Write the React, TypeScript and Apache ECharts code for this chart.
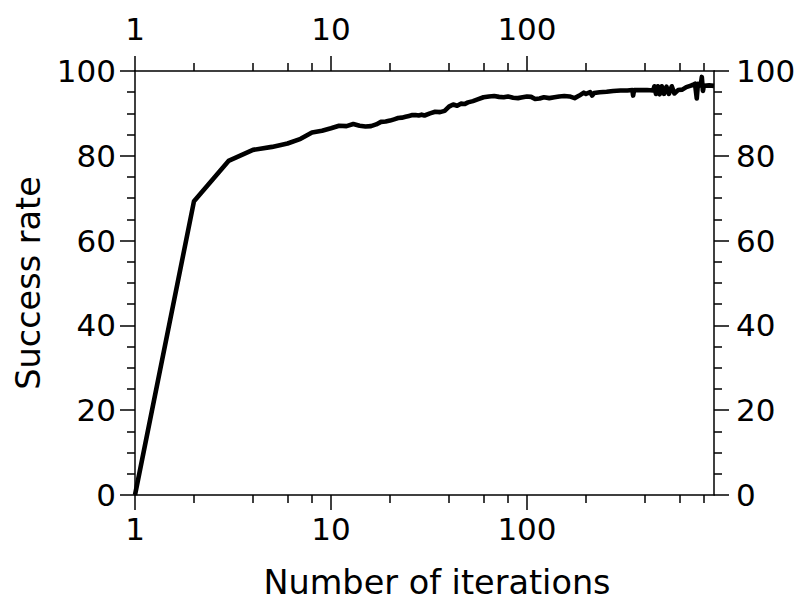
import React, { useEffect, useRef } from "react";
import * as echarts from "echarts";

const iterations = [
  1, 2, 3, 4, 5, 6, 7, 8, 9, 10, 11, 12, 13, 14, 15, 16, 17, 18, 19, 20,
  21, 22, 23, 24, 25, 26, 27, 28, 29, 30, 32, 34, 36, 38, 40, 42, 44, 46, 48, 50,
  53, 56, 60, 64, 68, 72, 76, 80, 85, 90, 95, 100, 105, 110, 116, 122, 130, 138, 146, 155,
  165, 175, 185, 195, 200, 210, 215, 220, 235, 255, 275, 300, 325, 345, 348, 352, 380, 410, 440, 447,
  455, 465, 475, 487, 500, 515, 530, 548, 565, 590, 620, 650, 680, 700, 720, 735,
  745, 770, 780, 790, 800, 850, 900,
];
const successRate = [
  0, 69.3, 78.8, 81.4, 82.1, 82.9, 84.0, 85.5, 85.9, 86.5, 87.1, 87.0, 87.5, 87.1, 86.9, 87.0, 87.4, 88.0, 88.1, 88.3,
  88.6, 88.9, 89.0, 89.2, 89.4, 89.6, 89.6, 89.5, 89.7, 89.5, 90.0, 90.4, 90.3, 90.6, 91.6, 92.1, 91.8, 92.3, 92.2, 92.6,
  92.9, 93.3, 93.8, 94.0, 94.1, 93.9, 93.8, 94.0, 93.7, 93.6, 93.8, 94.0, 93.9, 93.4, 93.5, 93.8, 93.6, 93.8, 94.0, 94.1,
  94.0, 93.6, 94.2, 94.9, 94.6, 95.0, 94.2, 94.8, 95.0, 95.1, 95.3, 95.4, 95.4, 95.5, 94.2, 95.5, 95.5, 95.5, 95.4, 96.4,
  94.6, 96.4, 94.5, 96.4, 94.6, 96.3, 94.6, 96.4, 94.7, 95.5, 95.6, 96.2, 96.5, 96.7, 97.0, 93.5,
  97.0, 96.6, 98.6, 95.3, 96.5, 96.6, 96.5,
];

const xMin = 1;
const xMax = 900;
const xMajorTicks = [1, 10, 100];
const xMinorTicks = [2, 4, 6, 8, 20, 40, 60, 80, 200, 400, 600, 800];
const yMin = 0;
const yMax = 100;
const yInterval = 20;

const FONT = "DejaVu Sans";
const BLACK = "#000000";

export default function App() {
  const ref = useRef<HTMLDivElement>(null);

  useEffect(() => {
    if (!ref.current) return;
    const chart = echarts.init(ref.current, undefined, { renderer: "svg" });

    const lineStyle = { color: BLACK, width: 1.5 };
    const majorX = (position: "top" | "bottom", withName: boolean) => ({
      type: "log",
      logBase: 10,
      position,
      min: xMin,
      max: xMax,
      axisLine: { show: true, lineStyle },
      axisTick: { show: true, customValues: xMajorTicks, length: 15, lineStyle },
      axisLabel: {
        show: true,
        customValues: xMajorTicks,
        fontSize: 31,
        fontFamily: FONT,
        color: BLACK,
        margin: position === "bottom" ? 18 : 27,
      },
      splitLine: { show: false },
      minorTick: { show: false },
      ...(withName
        ? {
            name: "Number of iterations",
            nameLocation: "middle",
            nameGap: 70,
            nameTextStyle: {
              fontSize: 33.5,
              fontFamily: FONT,
              color: BLACK,
              padding: [0, 0, 0, 25],
            },
          }
        : {}),
    });
    const minorX = (position: "top" | "bottom") => ({
      type: "log",
      logBase: 10,
      position,
      min: xMin,
      max: xMax,
      axisLine: { show: false },
      axisTick: { show: true, customValues: xMinorTicks, length: 8, lineStyle },
      axisLabel: { show: false },
      splitLine: { show: false },
    });
    const yAx = (position: "left" | "right", withName: boolean) => ({
      type: "value",
      position,
      min: yMin,
      max: yMax,
      interval: yInterval,
      axisLine: { show: true, lineStyle },
      axisTick: { show: true, length: 15, lineStyle },
      minorTick: { show: true, splitNumber: 4, length: 8, lineStyle },
      axisLabel: {
        show: true,
        fontSize: 31,
        fontFamily: FONT,
        color: BLACK,
        margin: position === "left" ? 19 : 22,
      },
      splitLine: { show: false },
      minorSplitLine: { show: false },
      ...(withName
        ? {
            name: "Success rate",
            nameLocation: "middle",
            nameGap: 88,
            nameTextStyle: { fontSize: 33.5, fontFamily: FONT, color: BLACK },
          }
        : {}),
    });

    chart.setOption({
      animation: false,
      backgroundColor: "#ffffff",
      grid: {
        left: 135,
        right: 85,
        top: 71,
        bottom: 106,
        containLabel: false,
        outerBoundsMode: "none",
      },
      xAxis: [majorX("bottom", true), minorX("bottom"), majorX("top", false), minorX("top")],
      yAxis: [yAx("left", true), yAx("right", false)],
      series: [
        {
          type: "line",
          xAxisIndex: 0,
          yAxisIndex: 0,
          data: iterations.map((x, i) => [x, successRate[i]]),
          showSymbol: false,
          symbol: "none",
          lineStyle: { color: BLACK, width: 4.6, join: "round" },
          clip: true,
        },
      ],
    });

    return () => chart.dispose();
  }, []);

  return (
    <div
      ref={ref}
      style={{ position: "fixed", left: 0, top: 0, width: 799, height: 601, background: "#fff" }}
    />
  );
}
